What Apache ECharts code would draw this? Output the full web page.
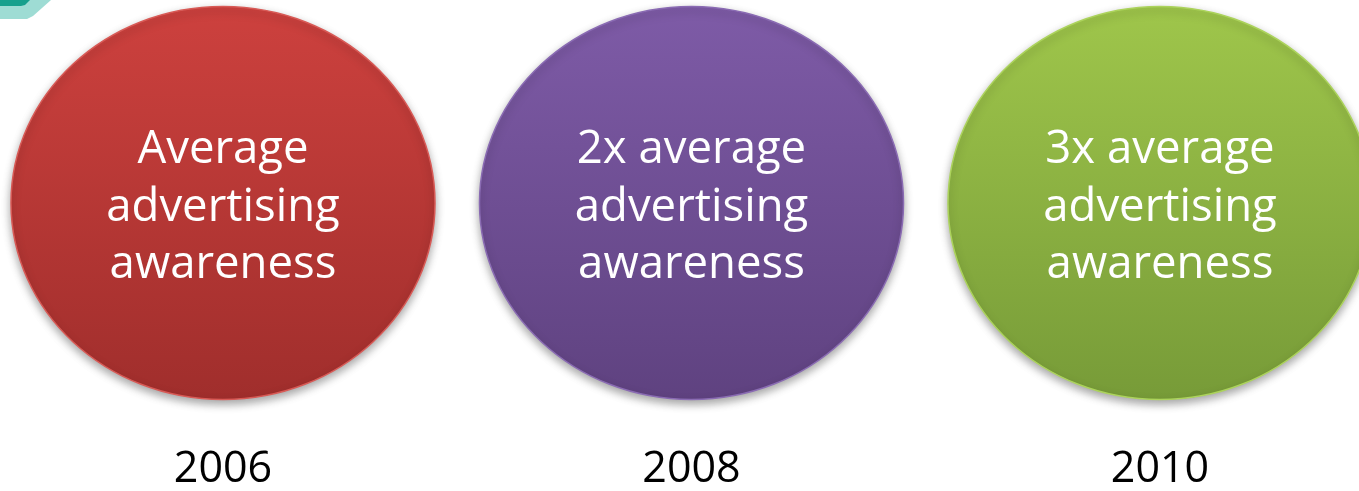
<!DOCTYPE html>
<html>
<head>
<meta charset="utf-8">
<title>Advertising awareness</title>
<script src="https://cdn.jsdelivr.net/npm/echarts@6/dist/echarts.min.js"></script>
<style>
  html, body { margin: 0; padding: 0; background: #ffffff; }
  #chart { width: 1359px; height: 491px; }
</style>
</head>
<body>
<div id="chart"></div>
<script>
// Years shown on the timeline
const years = [2006, 2008, 2010];
// Advertising awareness, as a multiple of the average
const awarenessMultiple = [1, 2, 3];
// Fill gradient for each bubble: [top, bottom]
const bubbleColors = [
  ['#cd413e', '#a02e2c'],
  ['#7e5ba7', '#5f4280'],
  ['#9fc64b', '#779b38']
];
const rimColors = ['#d85a56', '#8a6bb3', '#acd35c'];

function awarenessText(m) {
  const head = m === 1 ? 'Average' : m + 'x average';
  return head + '\nadvertising\nawareness';
}

const RX = 212;
const RY = 196.5;

const chart = echarts.init(document.getElementById('chart'), null, { renderer: 'canvas' });

chart.setOption({
  animation: false,
  backgroundColor: '#ffffff',
  grid: { left: 223, right: 199, top: 7, bottom: 91 },
  xAxis: {
    type: 'value',
    min: 2006,
    max: 2010,
    interval: 2,
    axisLine: { show: false },
    axisTick: { show: false },
    splitLine: { show: false },
    axisLabel: {
      margin: 49,
      color: '#000000',
      fontSize: 43,
      fontFamily: '"Open Sans", "Noto Sans", sans-serif',
      formatter: v => String(v)
    }
  },
  yAxis: { type: 'value', min: 0, max: 1, show: false },
  graphic: [
    {
      type: 'polygon',
      shape: { points: [[0, 0], [51, 0], [33, 16], [27, 19], [0, 19]] },
      style: { fill: '#9edcd4' },
      silent: true
    },
    {
      type: 'polygon',
      shape: { points: [[0, 0], [30, 0], [25, 5], [21, 6], [0, 6]] },
      style: { fill: '#17a08d' },
      silent: true
    }
  ],
  series: [{
    type: 'custom',
    silent: true,
    data: years.map((y, i) => [y, awarenessMultiple[i]]),
    renderItem(params, api) {
      const i = params.dataIndex;
      const pt = api.coord([api.value(0), 0.5]);
      return {
        type: 'ellipse',
        shape: { cx: pt[0], cy: pt[1], rx: RX, ry: RY },
        style: {
          fill: new echarts.graphic.LinearGradient(0, 0, 0, 1, [
            { offset: 0, color: bubbleColors[i][0] },
            { offset: 1, color: bubbleColors[i][1] }
          ]),
          stroke: rimColors[i],
          lineWidth: 1.5,
          shadowColor: 'rgba(0,0,0,0.35)',
          shadowBlur: 9,
          shadowOffsetY: 4
        },
        textContent: {
          style: {
            text: awarenessText(api.value(1)),
            fill: '#ffffff',
            fontSize: 45.5,
            fontFamily: '"Open Sans", "Noto Sans", sans-serif',
            lineHeight: 57.5,
            align: 'center',
            verticalAlign: 'middle'
          }
        },
        textConfig: { position: 'inside', offset: [0, 5] }
      };
    }
  }]
});
</script>
</body>
</html>
